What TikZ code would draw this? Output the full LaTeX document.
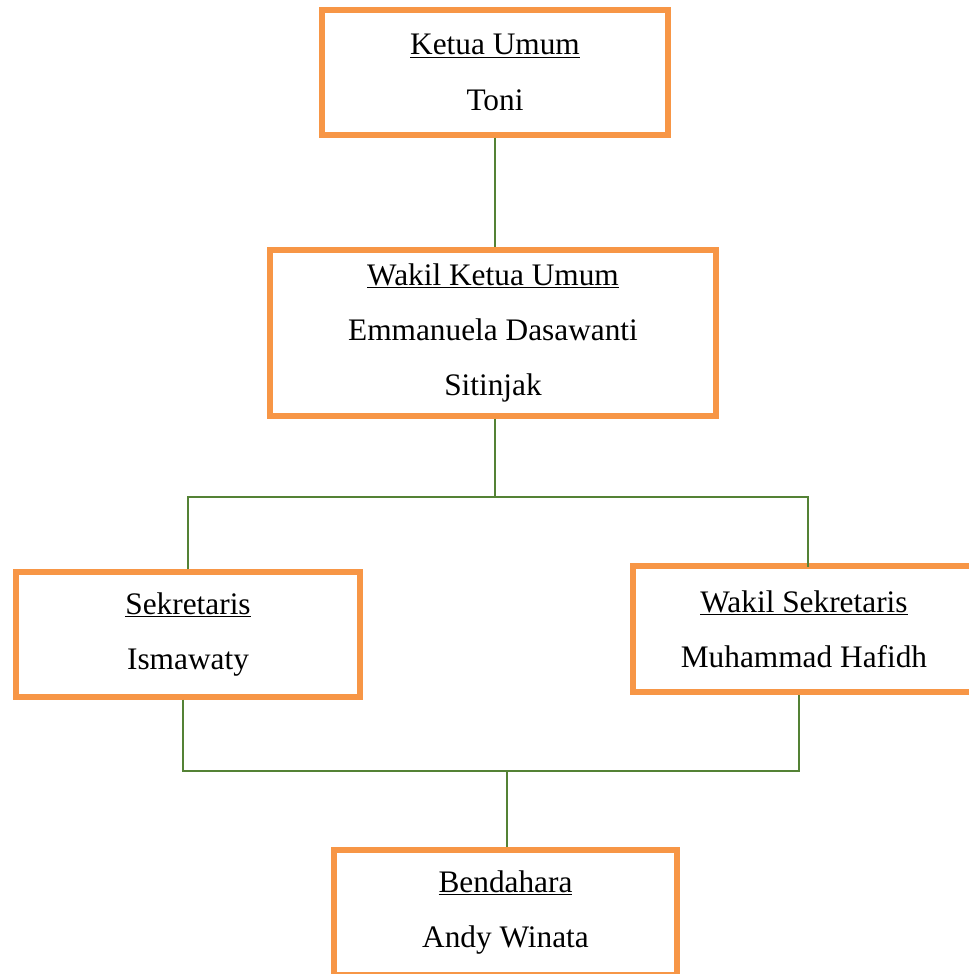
\documentclass[tikz,border=0pt]{standalone}
\usepackage{fontspec}
\setmainfont{Liberation Serif}
\definecolor{boxorange}{HTML}{F79646}
\definecolor{linegreen}{HTML}{548235}
\begin{document}
\begin{tikzpicture}[x=0.75pt,y=-0.75pt,
  orgbox/.style={draw=boxorange,line width=3.8pt,fill=white,inner sep=0pt,align=center,
    font=\fontsize{23.5}{41.5}\selectfont},
  conn/.style={draw=linegreen,line width=1.3pt}]
\useasboundingbox[fill=white] (0,0) rectangle (969,974);
\node[orgbox,minimum width=259.5pt,minimum height=93.75pt] (k1) at (495,72.5)
  {\underline{Ketua Umum}\\Toni};
\node[orgbox,minimum width=334.5pt,minimum height=124.5pt] (k2) at (493,333)
  {\underline{Wakil Ketua Umum}\\Emmanuela Dasawanti\\Sitinjak};
\node[orgbox,minimum width=258pt,minimum height=93.75pt] (sek) at (188,634.5)
  {\underline{Sekretaris}\\Ismawaty};
\node[orgbox,minimum width=256.5pt,minimum height=94.5pt] (wsek) at (804,629)
  {\underline{Wakil Sekretaris}\\Muhammad Hafidh};
\node[orgbox,minimum width=257.25pt,minimum height=93.75pt] (bend) at (505.5,912.5)
  {\underline{Bendahara}\\Andy Winata};
\coordinate (tm) at (495,497);
\coordinate (t1) at (188,497);
\coordinate (t2) at (808,497);
\coordinate (b1) at (183,771);
\coordinate (b2) at (799,771);
\coordinate (bm) at (507,771);
\draw[conn] (tm |- k1.south) -- (tm |- k2.north);
\draw[conn] (tm |- k2.south) -- (tm);
\draw[conn] (t1 |- sek.north) -- (t1) -- (t2) -- ([yshift=-3pt]t2 |- wsek.north);
\draw[conn] (b1 |- sek.south) -- (b1) -- (b2) -- (b2 |- wsek.south);
\draw[conn] (bm) -- (bm |- bend.north);
\end{tikzpicture}
\end{document}
